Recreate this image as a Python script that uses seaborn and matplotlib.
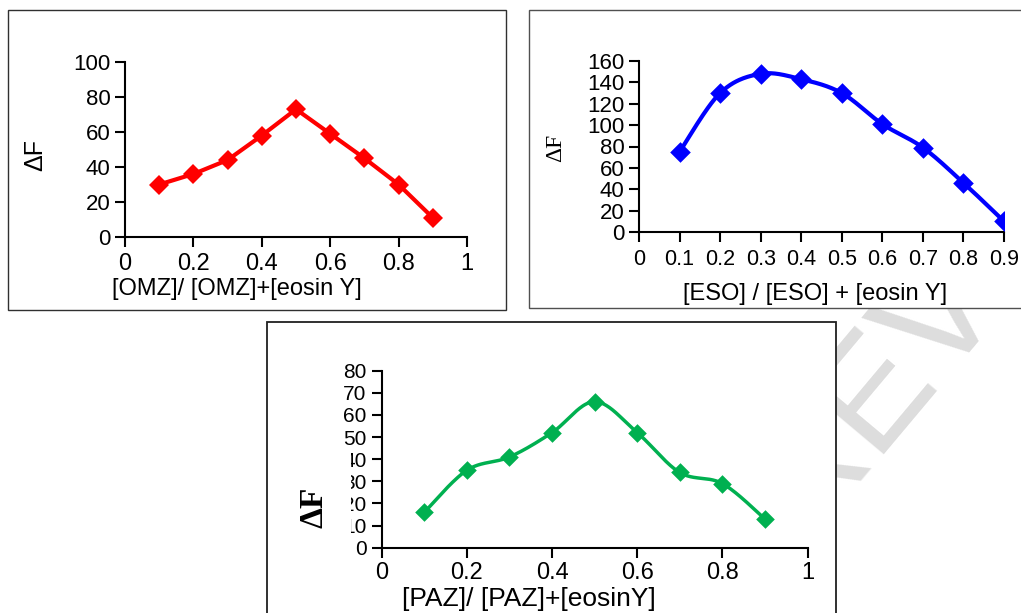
import numpy as np
import pandas as pd
import seaborn as sns
import matplotlib.pyplot as plt
from matplotlib.patches import Rectangle

# Job's method of continuous variation: mole fraction vs. fluorescence quenching
mole_fraction = [0.1, 0.2, 0.3, 0.4, 0.5, 0.6, 0.7, 0.8, 0.9]
omz_dF = [30, 36, 44, 58, 73, 59, 45, 30, 11]
eso_dF = [75, 130, 148, 143, 130, 101, 79, 46, 10]
paz_dF = [16, 35, 41, 52, 66, 52, 34, 29, 13]

omz_xticks = [0, 0.2, 0.4, 0.6, 0.8, 1]
omz_xticklabels = ["0", "0.2", "0.4", "0.6", "0.8", "1"]
omz_yticks = [0, 20, 40, 60, 80, 100]

eso_xticks = [0, 0.1, 0.2, 0.3, 0.4, 0.5, 0.6, 0.7, 0.8, 0.9]
eso_xticklabels = ["0", "0.1", "0.2", "0.3", "0.4", "0.5", "0.6", "0.7", "0.8", "0.9"]
eso_yticks = [0, 20, 40, 60, 80, 100, 120, 140, 160]

paz_xticks = [0, 0.2, 0.4, 0.6, 0.8, 1]
paz_xticklabels = ["0", "0.2", "0.4", "0.6", "0.8", "1"]
paz_yticks = [0, 10, 20, 30, 40, 50, 60, 70, 80]

omz_xlabel = "[OMZ]/ [OMZ]+[eosin Y]"
eso_xlabel = "[ESO] / [ESO] + [eosin Y]"
paz_xlabel = "[PAZ]/ [PAZ]+[eosinY]"

sns.set_theme(style="ticks", rc={
    "axes.edgecolor": "black", "text.color": "black",
    "xtick.color": "black", "ytick.color": "black",
    "axes.labelcolor": "black",
})
plt.rcParams["font.family"] = ["Liberation Sans", "DejaVu Sans"]
SERIF = ["Liberation Serif", "DejaVu Serif"]

W, H = 1021, 613
fig = plt.figure(figsize=(W / 100, H / 100), dpi=100)


def px_rect(x0, y0, x1, y1):
    """Figure-fraction rectangle from pixel corners (origin top-left)."""
    return [x0 / W, 1 - y1 / H, (x1 - x0) / W, (y1 - y0) / H]


def smooth_curve(x, y, n=40):
    """Catmull-Rom spline through the data points, like a smoothed line."""
    pts = np.column_stack([x, y]).astype(float)
    out = []
    for i in range(len(pts) - 1):
        p0 = pts[max(i - 1, 0)]
        p1 = pts[i]
        p2 = pts[i + 1]
        p3 = pts[min(i + 2, len(pts) - 1)]
        t = np.linspace(0, 1, n, endpoint=(i == len(pts) - 2))[:, None]
        seg = 0.5 * (2 * p1 + (-p0 + p2) * t
                     + (2 * p0 - 5 * p1 + 4 * p2 - p3) * t ** 2
                     + (-p0 + 3 * p1 - 3 * p2 + p3) * t ** 3)
        out.append(seg)
    seg = np.vstack(out)
    return seg[:, 0], seg[:, 1]


# faint watermark behind the panels
fig.text(0.945, 0.54, "REVIEW", rotation=50, color="#dddddd",
         fontsize=110, ha="center", va="center", zorder=-10)

# white panel frames
frames = [
    (px_rect(8, 10, 506, 310), "#303030", 1.0),
    (px_rect(529, 10, 1030, 308), "#505050", 1.0),
    (px_rect(267, 322, 836, 625), "#202020", 1.3),
]
for (x0, y0, w, h), ec, lw in frames:
    fig.patches.append(Rectangle((x0, y0), w, h, transform=fig.transFigure,
                                 facecolor="white", edgecolor=ec,
                                 linewidth=lw, zorder=-5))


def style_axes(ax, tick_fs_x, tick_fs_y, xpad, ypad):
    sns.despine(ax=ax)
    for side in ["left", "bottom"]:
        ax.spines[side].set_linewidth(1.5)
        ax.spines[side].set_color("black")
    ax.tick_params(axis="both", direction="out", length=7.5, width=1.5,
                   color="black")
    ax.tick_params(axis="x", labelsize=tick_fs_x, pad=xpad)
    ax.tick_params(axis="y", labelsize=tick_fs_y, pad=ypad)
    ax.set_facecolor("white")


# ---- OMZ panel (straight segments)
ax1 = fig.add_axes(px_rect(125, 62, 467, 237))
sns.lineplot(x=mole_fraction, y=omz_dF, ax=ax1, color="#ff0000",
             linewidth=3, marker="D", markersize=10.5, markeredgewidth=0)
ax1.set_xlim(0, 1)
ax1.set_ylim(0, 100)
ax1.set_xticks(omz_xticks, omz_xticklabels)
ax1.set_yticks(omz_yticks)
style_axes(ax1, 17, 16, 4, 3)
ax1.set_xlabel(omz_xlabel, fontsize=17)
ax1.xaxis.set_label_coords(0.327, -0.235)
ax1.set_ylabel("ΔF", fontsize=18)
ax1.yaxis.set_label_coords(-0.228, 0.469)

# ---- ESO panel (smoothed line)
ax2 = fig.add_axes(px_rect(639, 61, 1004, 232))
sx, sy = smooth_curve(mole_fraction, eso_dF)
sns.lineplot(x=sx, y=sy, ax=ax2, color="#0000ff", linewidth=3, sort=False)
sns.scatterplot(x=mole_fraction, y=eso_dF, ax=ax2, color="#0000ff",
                marker="D", s=110, linewidth=0, zorder=3)
ax2.set_xlim(0, 0.9)
ax2.set_ylim(0, 160)
ax2.set_xticks(eso_xticks, eso_xticklabels)
ax2.set_yticks(eso_yticks)
style_axes(ax2, 15.5, 16, 5, 3)
ax2.set_xlabel(eso_xlabel, fontsize=17)
ax2.xaxis.set_label_coords(0.482, -0.30)
ax2.set_ylabel("ΔF", fontsize=17, family=SERIF)
ax2.yaxis.set_label_coords(-0.201, 0.491)

# ---- PAZ panel (smoothed line)
ax3 = fig.add_axes(px_rect(381.7, 370.7, 807.5, 547.7))
sx, sy = smooth_curve(mole_fraction, paz_dF)
sns.lineplot(x=sx, y=sy, ax=ax3, color="#00b050", linewidth=2.5, sort=False)
sns.scatterplot(x=mole_fraction, y=paz_dF, ax=ax3, color="#00b050",
                marker="D", s=90, linewidth=0, zorder=3)
ax3.set_xlim(0, 1)
ax3.set_ylim(0, 80)
ax3.set_xticks(paz_xticks, paz_xticklabels)
ax3.set_yticks(paz_yticks)
style_axes(ax3, 17, 15, 3, 3.5)
ax3.set_xlabel(paz_xlabel, fontsize=19)
ax3.xaxis.set_label_coords(0.346, -0.22)
# the bold label sits on a white block that overlaps part of the tick labels
ax3.add_patch(Rectangle((-0.25, 0.065), 0.177, 0.49, transform=ax3.transAxes,
                        facecolor="white", edgecolor="none", clip_on=False,
                        zorder=4))
ax3.text(-0.16, 0.23, "ΔF", transform=ax3.transAxes, rotation=90,
         ha="center", va="center", fontsize=24, fontweight="bold",
         family=SERIF, zorder=5)

fig.savefig("out.png", dpi=100)
